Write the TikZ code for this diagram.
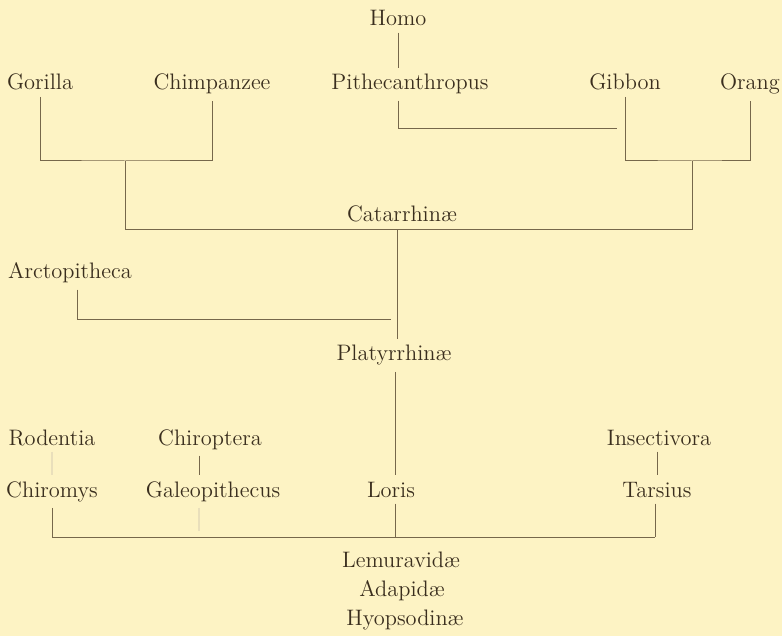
\documentclass[tikz,border=0pt]{standalone}
\usepackage{fontspec}
\definecolor{bgc}{HTML}{FDF3C4}
\definecolor{txc}{HTML}{3A2E1E}
\definecolor{lnc}{HTML}{76674B}
\definecolor{fnc}{HTML}{E9DFBB}
\begin{document}
\begin{tikzpicture}[x=0.5pt,y=-0.5pt,
  lbl/.style={inner xsep=0pt, inner ysep=3pt, anchor=base, text=txc,
    font=\fontsize{11.2}{13}\selectfont},
  ln/.style={draw=lnc, line width=0.5pt},
  faint/.style={draw=fnc, line width=0.6pt}]
\fill[bgc] (0,0) rectangle (782,636);
\useasboundingbox (0,0) rectangle (782,636);
% labels
\node[lbl] (homo) at (398,26) {Homo};
\node[lbl] (gor)  at (40,90)  {Gorilla};
\node[lbl] (chi)  at (212,90) {Chimpanzee};
\node[lbl] (pith) at (410,90) {Pithecanthropus};
\node[lbl] (gib)  at (625,90) {Gibbon};
\node[lbl] (ora)  at (750,90) {Orang};
\node[lbl] (cat)  at (402,222) {Catarrhinæ};
\node[lbl] (arc)  at (70,279) {Arctopitheca};
\node[lbl] (pla)  at (394,361) {Platyrrhinæ};
\node[lbl] (rod)  at (52,445) {Rodentia};
\node[lbl] (chir) at (210,445) {Chiroptera};
\node[lbl] (ins)  at (659,445) {Insectivora};
\node[lbl] (chm)  at (52,497) {Chiromys};
\node[lbl] (gal)  at (213,497) {Galeopithecus};
\node[lbl] (lor)  at (391,497) {Loris};
\node[lbl] (tar)  at (657,497) {Tarsius};
\node[lbl] (lem)  at (401,567) {Lemuravidæ};
\node[lbl] (ada)  at (402,596) {Adapidæ};
\node[lbl] (hyo)  at (405,625) {Hyopsodinæ};
% junction coordinates
\coordinate (jgc) at (125,161);
\coordinate (jgo) at (692,161);
\coordinate (jhp) at (617,129);
\coordinate (cL) at (125,230);
\coordinate (cM) at (397,230);
\coordinate (cR) at (692,230);
\coordinate (aj) at (391,320);
\coordinate (ax) at (77,320);
\coordinate (gx) at (199,497);
\coordinate (bM) at (395,537);
\coordinate (bR) at (655,537);
% connectors
\draw[ln] (homo.south) -- (homo.south |- pith.north);
\draw[ln] (homo.south |- pith.south) |- (jhp);
\draw[ln] (gor.south) |- (jgc) -| (chi.south);
\draw[ln] (gib.south) |- (jgo) -| (ora.south);
\draw[ln] (jgc) -- (cL) -- (cR) -- (jgo);
\draw[ln] (cM) -- (cM |- pla.north);
\draw[ln] (ax |- arc.south) -- (ax) -- (aj);
\draw[ln] (pla.south -| bM) -- (lor.north -| bM);
\draw[ln] (lor.south -| bM) -- (bM);
\draw[ln] (chm.south) |- (bR);
\draw[ln] (tar.south -| bR) -- (bR);
\draw[faint] (rod.south) -- (chm.north);
\draw[ln] (gx |- chir.south) -- (gx |- gal.north);
\draw[faint, shorten >=3pt] (gx |- gal.south) -- (gx |- bR);
\draw[ln] (tar.north |- ins.south) -- (tar.north);
\end{tikzpicture}
\end{document}
